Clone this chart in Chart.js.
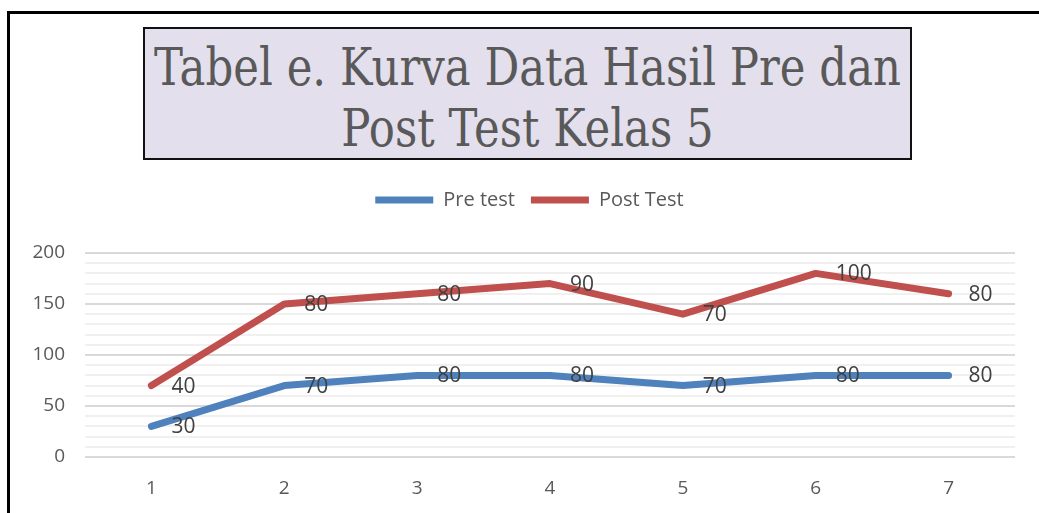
<!DOCTYPE html>
<html>
<head>
<meta charset="utf-8">
<script src="https://cdn.jsdelivr.net/npm/chart.js@4.4.0/dist/chart.umd.min.js"></script>
<style>
  html, body { margin: 0; padding: 0; background: #fff; }
  #wrap { position: relative; width: 1039px; height: 513px; overflow: hidden; }
  #frame {
    position: absolute; left: 7px; top: 11px; width: 1100px; height: 600px;
    border-left: 3px solid #000; border-top: 3px solid #000;
  }
  #title {
    position: absolute; left: 143px; top: 27px; width: 765px;
    background: #E4DFEC; border: 2px solid #111;
    color: #595959; font-family: "DejaVu Serif", serif; font-size: 52px;
    line-height: 61px; padding-top: 8px; height: 121px;
  }
  #title .line { display: flex; justify-content: center; white-space: nowrap; transform-origin: center; }
  #chart { position: absolute; left: 0; top: 0; }
</style>
</head>
<body>
<div id="wrap">
  <div id="frame"></div>
  <canvas id="chart" width="1039" height="513"></canvas>
  <div id="title">
    <div class="line"><span>Tabel e. Kurva Data Hasil Pre dan</span></div>
    <div class="line"><span>Post Test Kelas 5</span></div>
  </div>
</div>
<script>
const categories = ['1', '2', '3', '4', '5', '6', '7'];
const preTest = [30, 70, 80, 80, 70, 80, 80];
const postTest = [40, 80, 80, 90, 70, 100, 80];
const seriesNames = ['Pre test', 'Post Test'];

const FONT = '"Open Sans", sans-serif';

// squeeze the title so its first line is as wide as in the original
const titleLines = document.querySelectorAll('#title .line');
const firstWidth = titleLines[0].firstElementChild.getBoundingClientRect().width;
const squeeze = Math.min(1, 747 / firstWidth);
titleLines.forEach(l => { l.style.transform = 'scaleX(' + squeeze + ')'; });

// Excel-style data labels to the right of each point
const pointLabels = {
  id: 'pointLabels',
  afterDatasetsDraw(chart) {
    const ctx = chart.ctx;
    ctx.save();
    ctx.font = '21px ' + FONT;
    ctx.fillStyle = '#404040';
    ctx.textAlign = 'left';
    ctx.textBaseline = 'middle';
    chart.data.datasets.forEach((ds, i) => {
      const meta = chart.getDatasetMeta(i);
      meta.data.forEach((pt, j) => {
        ctx.fillText(String(ds.data[j]), pt.x + 20, pt.y + 1);
      });
    });
    ctx.restore();
  }
};

// leave a gap under the legend and nudge it right like the original
const legendSpacing = {
  id: 'legendSpacing',
  beforeLayout(chart) {
    const lg = chart.legend;
    if (lg && !lg._patched) {
      const fit = lg.fit;
      lg.fit = function () { fit.call(this); this.height += 33; };
      lg._patched = true;
    }
  },
  afterLayout(chart) {
    const lg = chart.legend;
    if (lg) { lg.left += 17; lg.right += 17; }
  }
};

new Chart(document.getElementById('chart'), {
  type: 'line',
  data: {
    labels: categories,
    datasets: [
      {
        label: seriesNames[0], data: preTest,
        borderColor: '#4F81BD', backgroundColor: '#4F81BD',
        borderWidth: 7, pointRadius: 0, tension: 0,
        borderCapStyle: 'round', borderJoinStyle: 'round'
      },
      {
        label: seriesNames[1], data: postTest,
        borderColor: '#C0504D', backgroundColor: '#C0504D',
        borderWidth: 7, pointRadius: 0, tension: 0,
        borderCapStyle: 'round', borderJoinStyle: 'round'
      }
    ]
  },
  options: {
    responsive: false,
    animation: false,
    layout: { padding: { left: 10, right: 24, top: 174, bottom: 0 } },
    plugins: {
      title: { display: false },
      tooltip: { enabled: false },
      legend: {
        position: 'top',
        labels: {
          usePointStyle: true,
          pointStyle: 'line',
          pointStyleWidth: 58,
          boxHeight: 20,
          color: '#595959',
          font: { family: FONT, size: 20 },
          padding: 16
        }
      }
    },
    scales: {
      x: {
        offset: true,
        grid: { display: false, drawTicks: false },
        border: { display: false },
        ticks: {
          color: '#595959', padding: 20,
          font: { family: FONT, size: 19 }
        },
        afterFit(scale) { scale.height = 56; }
      },
      y: {
        stacked: true,
        min: 0, max: 200,
        border: { display: false },
        grid: {
          drawTicks: false,
          lineWidth: 2,
          color: (c) => (c.tick && c.tick.value % 50 === 0) ? '#D9D9D9' : '#F0F0F0'
        },
        ticks: {
          stepSize: 10, autoSkip: false, padding: 20,
          color: '#595959',
          font: { family: FONT, size: 19 },
          callback: (v) => (v % 50 === 0 ? v : '')
        },
        afterFit(scale) { scale.width = 75; }
      }
    }
  },
  plugins: [pointLabels, legendSpacing]
});
</script>
</body>
</html>
